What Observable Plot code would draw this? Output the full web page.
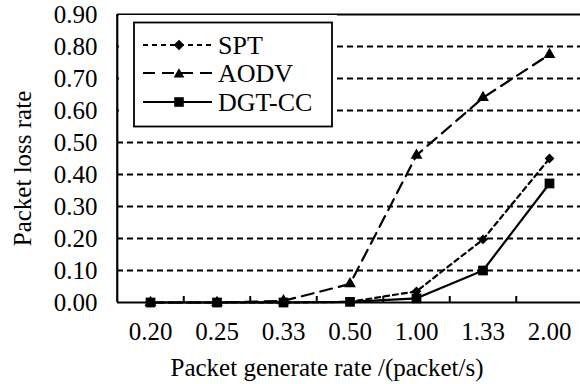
<!DOCTYPE html>
<html>
<head>
<meta charset="utf-8">
<script src="https://cdn.jsdelivr.net/npm/d3@7"></script>
<script src="https://cdn.jsdelivr.net/npm/@observablehq/plot@0.6"></script>
<style>
  html, body { margin: 0; padding: 0; background: #fff; }
  #wrap { position: relative; width: 580px; height: 384px; overflow: hidden; font-family: 'Liberation Serif', 'Times New Roman', serif; }
  #wrap svg text { font-family: 'Liberation Serif', 'Times New Roman', serif; }
  #legend { position: absolute; left: 0; top: 0; }
</style>
</head>
<body>
<div id="wrap"></div>
<script>
const categories = ["0.20", "0.25", "0.33", "0.50", "1.00", "1.33", "2.00"];
const sptValues  = [0.000, 0.000, 0.000, 0.002, 0.035, 0.197, 0.450];
const aodvValues = [0.000, 0.000, 0.005, 0.058, 0.460, 0.640, 0.775];
const dgtValues  = [0.000, 0.000, 0.000, 0.002, 0.013, 0.100, 0.372];
const seriesNames = ["SPT", "AODV", "DGT-CC"];
const yTicks = [0, 0.1, 0.2, 0.3, 0.4, 0.5, 0.6, 0.7, 0.8, 0.9];
const gridValues = [0.1, 0.2, 0.3, 0.4, 0.5, 0.6, 0.7, 0.8];
const xTitle = "Packet generate rate /(packet/s)";
const yTitle = "Packet loss rate";

const styles = {
  "SPT":    {dash: "5,4",  symbol: "diamond2", r: 4.4},
  "AODV":   {dash: "12,7", symbol: "triangle", r: 4.4},
  "DGT-CC": {dash: null,   symbol: "square",   r: 5.5}
};

const valuesBySeries = {"SPT": sptValues, "AODV": aodvValues, "DGT-CC": dgtValues};
const rows = [];
for (const s of seriesNames) {
  valuesBySeries[s].forEach((v, i) => rows.push({series: s, i, cat: categories[i], v}));
}
const bounds = categories.slice(1).map((_, i) => i + 0.5);
const font = "'Liberation Serif', 'Times New Roman', serif";

const drawOrder = ["AODV", "SPT", "DGT-CC"];
const seriesMarks = [];
for (const s of drawOrder) {
  const d = rows.filter(r => r.series === s);
  seriesMarks.push(Plot.line(d, {x: "i", y: "v", stroke: "#000", strokeWidth: 2.2, strokeDasharray: styles[s].dash}));
  seriesMarks.push(Plot.dot(d, {x: "i", y: "v", symbol: () => styles[s].symbol, r: styles[s].r, fill: "#000", stroke: "none"}));
}

const chart = Plot.plot({
  width: 580,
  height: 384,
  marginLeft: 117,
  marginRight: 0,
  marginTop: 14,
  marginBottom: 82,
  style: {fontFamily: font, fontSize: "25px", color: "#000", background: "#fff", overflow: "visible"},
  x: {type: "linear", domain: [0, 6], range: [150, 549]},
  y: {domain: [0, 0.9], range: [302, 14]},
  symbol: {type: "identity"},
  marks: [
    Plot.ruleY(gridValues, {stroke: "#000", strokeWidth: 2.2, strokeDasharray: "6,4"}),
    Plot.ruleY([0.9], {stroke: "#000", strokeWidth: 2.2}),
    Plot.ruleY([0], {stroke: "#000", strokeWidth: 2.2}),
    Plot.ruleX([-0.5], {stroke: "#000", strokeWidth: 2.2}),
    Plot.tickX(bounds, {x: d => d, stroke: "#000", strokeWidth: 2, insetTop: 282}),
    Plot.axisY({ticks: yTicks, tickFormat: d => d.toFixed(2), tickSize: 0, tickPadding: 20,
      label: null, fontSize: 25}),
    Plot.axisX({ticks: d3.range(categories.length), tickFormat: i => categories[i], tickSize: 0, tickPadding: 20,
      label: null, fontSize: 25}),
    Plot.text([xTitle], {text: d => d, frameAnchor: "bottom", dx: -22, dy: 65, lineAnchor: "middle", fontSize: 25, fill: "#000"}),
    Plot.text([yTitle], {text: d => d, frameAnchor: "left", dx: -95, dy: 10, rotate: -90, lineAnchor: "middle", textAnchor: "middle", fontSize: 25, fill: "#000"}),
    ...seriesMarks
  ]
});
document.getElementById("wrap").appendChild(chart);

// Legend overlay
const lg = d3.select("#wrap").append("svg")
  .attr("id", "legend").attr("width", 580).attr("height", 384)
  .style("font-family", font);
lg.append("rect").attr("x", 119).attr("y", 15).attr("width", 218).attr("height", 116).attr("fill", "#fff");
lg.append("rect").attr("x", 134).attr("y", 22.5).attr("width", 198).attr("height", 104)
  .attr("fill", "none").attr("stroke", "#000").attr("stroke-width", 1.8);
const legendY = [45, 73, 102];
const symMap = {diamond2: d3.symbolDiamond2, triangle: d3.symbolTriangle, square: d3.symbolSquare};
const legendR = {"SPT": 4.8, "AODV": 4.0, "DGT-CC": 5.4};
seriesNames.forEach((s, k) => {
  const y = legendY[k];
  lg.append("line").attr("x1", 143).attr("x2", 212).attr("y1", y).attr("y2", y)
    .attr("stroke", "#000").attr("stroke-width", 2.2)
    .attr("stroke-dasharray", styles[s].dash);
  const r = legendR[s];
  lg.append("path").attr("transform", `translate(179,${y + (s === "AODV" ? 1.5 : 0)})`)
    .attr("d", d3.symbol(symMap[styles[s].symbol], Math.PI * r * r)())
    .attr("fill", "#000");
  lg.append("text").attr("x", 218).attr("y", y).attr("dy", "0.33em")
    .attr("font-size", 26).attr("fill", "#000").text(s);
});
</script>
</body>
</html>
